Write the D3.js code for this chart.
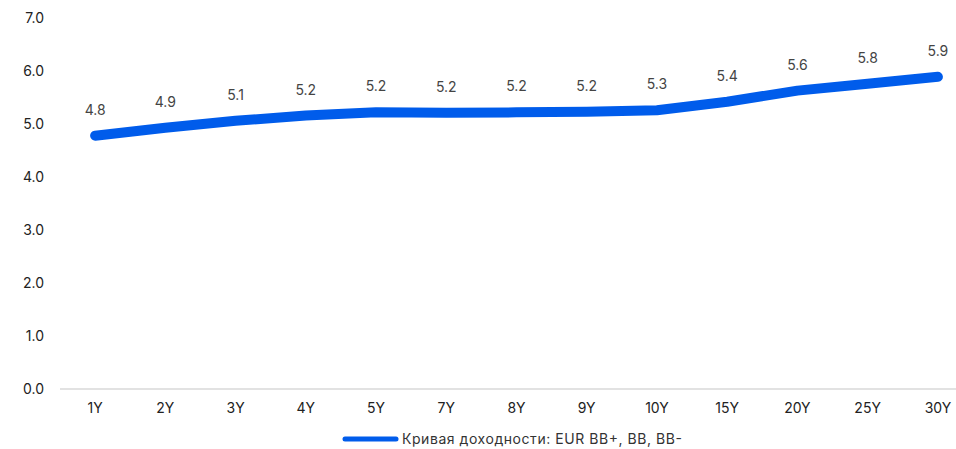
<!DOCTYPE html>
<html><head><meta charset="utf-8">
<script src="https://cdn.jsdelivr.net/npm/d3@7"></script>
<style>
html,body{margin:0;padding:0;background:#fff;}
svg{display:block;font-family:Inter, "Noto Sans", sans-serif;}
</style></head>
<body><svg id="c" width="956" height="449"></svg>
<script>
const categories = ["1Y","2Y","3Y","4Y","5Y","7Y","8Y","9Y","10Y","15Y","20Y","25Y","30Y"];
const values = [4.78,4.93,5.06,5.16,5.22,5.21,5.22,5.23,5.26,5.42,5.63,5.76,5.89];
const labels = ["4.8","4.9","5.1","5.2","5.2","5.2","5.2","5.2","5.3","5.4","5.6","5.8","5.9"];
const yTicks = [0,1,2,3,4,5,6,7];
const seriesName = "Кривая доходности: EUR BB+, BB, BB-";

const svg = d3.select("#c");
const x = d3.scaleBand().domain(categories).range([60, 973]);
const y = d3.scaleLinear().domain([0,7]).range([389, 18]);

// y axis labels
const ya = svg.append("g").attr("transform","translate(44,0)")
  .call(d3.axisLeft(y).tickValues(yTicks).tickFormat(d3.format(".1f")).tickSize(0).tickPadding(0));
ya.select(".domain").remove();
ya.selectAll("text").attr("font-size",14).attr("fill","#222").attr("font-family","Inter, 'Noto Sans', sans-serif");

// x axis
const xa = svg.append("g").attr("transform","translate(0,389)")
  .call(d3.axisBottom(x).tickSize(0).tickPadding(14));
xa.select(".domain").remove();
xa.selectAll("text").attr("font-size",14).attr("fill","#222").attr("font-family","Inter, 'Noto Sans', sans-serif");
svg.append("line").attr("x1",60).attr("x2",956).attr("y1",y(0)).attr("y2",y(0))
  .attr("stroke","#d9d9d9").attr("stroke-width",1.5);

const cx = d => x(d) + x.bandwidth()/2;
const line = d3.line().x((d,i)=>cx(categories[i])).y(d=>y(d));
svg.append("path").datum(values).attr("d",line).attr("fill","none")
  .attr("stroke","#005ceb").attr("stroke-width",10).attr("stroke-linecap","round").attr("stroke-linejoin","round");

svg.append("g").selectAll("text").data(values).join("text")
  .attr("x",(d,i)=>cx(categories[i])).attr("y",d=>y(d)-21)
  .attr("text-anchor","middle").attr("font-size",14).attr("fill","#444")
  .text((d,i)=>labels[i]);

// legend
svg.append("line").attr("x1",345).attr("x2",396).attr("y1",439).attr("y2",439)
  .attr("stroke","#005ceb").attr("stroke-width",5).attr("stroke-linecap","round");
svg.append("text").attr("x",402).attr("y",444).attr("font-size",14).attr("fill","#333")
  .attr("textLength",280).attr("lengthAdjust","spacing").text(seriesName);
</script></body></html>
